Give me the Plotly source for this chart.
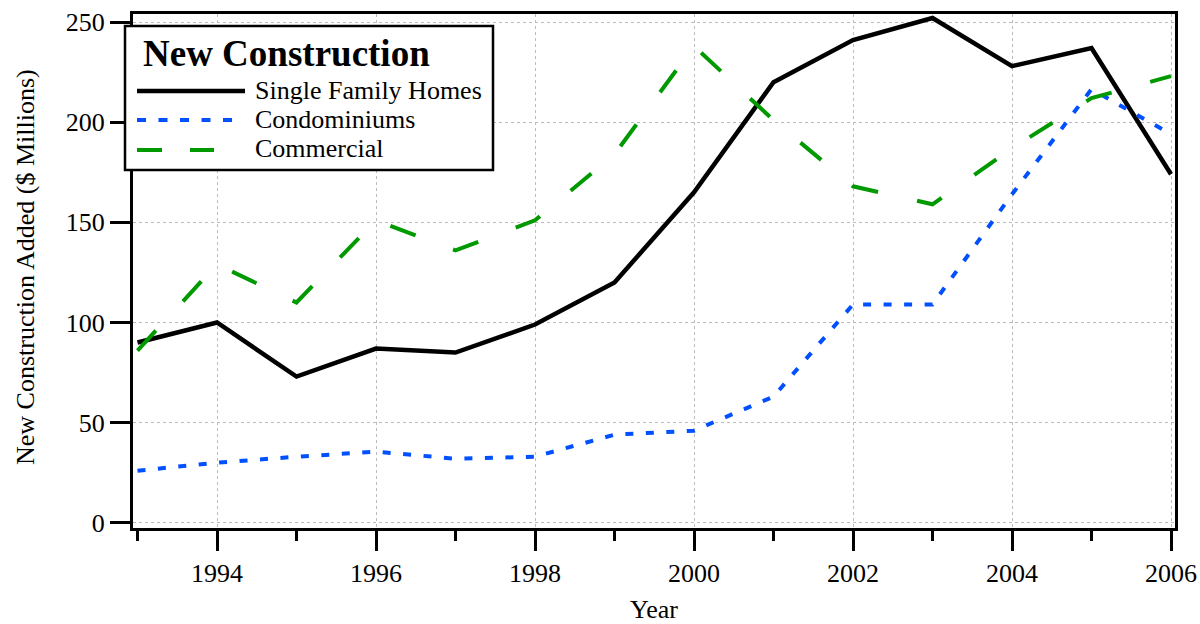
import plotly.graph_objects as go

# ---- data ----
years = [1993, 1994, 1995, 1996, 1997, 1998, 1999, 2000, 2001, 2002, 2003, 2004, 2005, 2006]
single_family = [90, 100, 73, 87, 85, 99, 120, 165, 220, 241, 252, 228, 237, 174]
condominiums = [26, 30, 33, 35.5, 32, 33, 44, 46, 63, 109, 109, 164, 216.5, 194]
commercial = [86, 129, 110, 151, 136, 151, 184, 238, 201, 168, 159, 187, 212, 223]

series_names = ["Single Family Homes", "Condominiums", "Commercial"]
legend_title = "New Construction"
x_title = "Year"
y_title = "New Construction Added ($ Millions)"
x_tickvals = [1994, 1996, 1998, 2000, 2002, 2004, 2006]
x_minor_tickvals = [1993, 1995, 1997, 1999, 2001, 2003, 2005]
y_tickvals = [0, 50, 100, 150, 200, 250]

# ---- styling ----
FONT = "Liberation Serif, Times New Roman, serif"
BLACK = "#000000"
BLUE = "#0050ff"
GREEN = "#009900"
styles = [
    dict(color=BLACK, width=4.5, dash="solid"),
    dict(color=BLUE, width=4, dash="8px,12.5px"),
    dict(color=GREEN, width=4, dash="27px,40px"),
]
legend_dashes = ["solid", "9px,12.5px", "25px,28px"]

W_PX, H_PX = 1200, 624
L, R, T, B = 133, 25, 14, 96
PW = W_PX - L - R
PH = H_PX - T - B


def px_x(px):
    return (px - L) / PW


def px_y(py):
    return (T + PH - py) / PH


fig = go.Figure()
for name, ys, st in zip(series_names, [single_family, condominiums, commercial], styles):
    fig.add_trace(go.Scatter(
        x=years, y=ys, mode="lines", name=name,
        line=dict(color=st["color"], width=st["width"], dash=st["dash"]),
        showlegend=False,
    ))

# ---- custom legend (box, title, samples, labels) ----
shapes = [dict(type="rect", xref="paper", yref="paper",
               x0=px_x(125), x1=px_x(493), y0=px_y(170), y1=px_y(26),
               fillcolor="white", line=dict(color="black", width=2.5), layer="above")]
annotations = [dict(text="<b>" + legend_title + "</b>", xref="paper", yref="paper",
                    x=px_x(141), y=px_y(54), xanchor="left", yanchor="middle",
                    showarrow=False, font=dict(family=FONT, size=37, color="black"))]
row_y = [91, 120, 150]
sample_end = [245, 233, 214]
for name, st, ld, ry, xe in zip(series_names, styles, legend_dashes, row_y, sample_end):
    shapes.append(dict(type="line", xref="paper", yref="paper",
                       x0=px_x(137), x1=px_x(xe), y0=px_y(ry), y1=px_y(ry),
                       line=dict(color=st["color"], width=st["width"], dash=ld),
                       layer="above"))
    annotations.append(dict(text=name, xref="paper", yref="paper",
                            x=px_x(253), y=px_y(ry - 1), xanchor="left", yanchor="middle",
                            showarrow=False, font=dict(family=FONT, size=26, color="black")))

# axis titles as annotations for precise placement
annotations.append(dict(text=x_title, xref="paper", yref="paper",
                        x=px_x(654), y=px_y(610), xanchor="center", yanchor="middle",
                        showarrow=False, font=dict(family=FONT, size=26, color="black")))
annotations.append(dict(text=y_title, xref="paper", yref="paper",
                        x=px_x(25), y=px_y(267), xanchor="center", yanchor="middle",
                        textangle=-90, showarrow=False,
                        font=dict(family=FONT, size=26, color="black")))

x0 = 1993 - (137.5 - L) / 79.5
x1 = x0 + PW / 79.5
y0 = -(T + PH - 522.8) / 2.003
y1 = y0 + PH / 2.003

fig.update_layout(
    width=W_PX, height=H_PX,
    margin=dict(l=L, r=R, t=T, b=B, autoexpand=False),
    paper_bgcolor="white", plot_bgcolor="white",
    font=dict(family=FONT, size=26, color="black"),
    shapes=shapes, annotations=annotations,
    showlegend=False,
)
fig.update_xaxes(
    range=[x0, x1], tickmode="array", tickvals=x_tickvals,
    ticks="outside", ticklen=20, tickwidth=3, tickcolor="black",
    showline=True, linewidth=3, linecolor="black", mirror=True,
    showgrid=True, gridcolor="#bbbbbb", gridwidth=1, griddash="dot",
    zeroline=False,
    minor=dict(tickmode="array", tickvals=x_minor_tickvals,
               ticks="outside", ticklen=10, tickwidth=3, tickcolor="black", showgrid=False),
    tickfont=dict(family=FONT, size=26, color="black"),
)
fig.update_yaxes(
    range=[y0, y1], tickmode="array", tickvals=y_tickvals,
    ticks="outside", ticklen=20, tickwidth=3, tickcolor="black",
    showline=True, linewidth=3, linecolor="black", mirror=True,
    showgrid=True, gridcolor="#bbbbbb", gridwidth=1, griddash="dot",
    zeroline=False,
    tickfont=dict(family=FONT, size=26, color="black"),
)

fig.write_html(
    "out.html",
    config={"displayModeBar": False},
    post_script="document.body.style.margin='0';document.body.style.overflow='hidden';",
)
